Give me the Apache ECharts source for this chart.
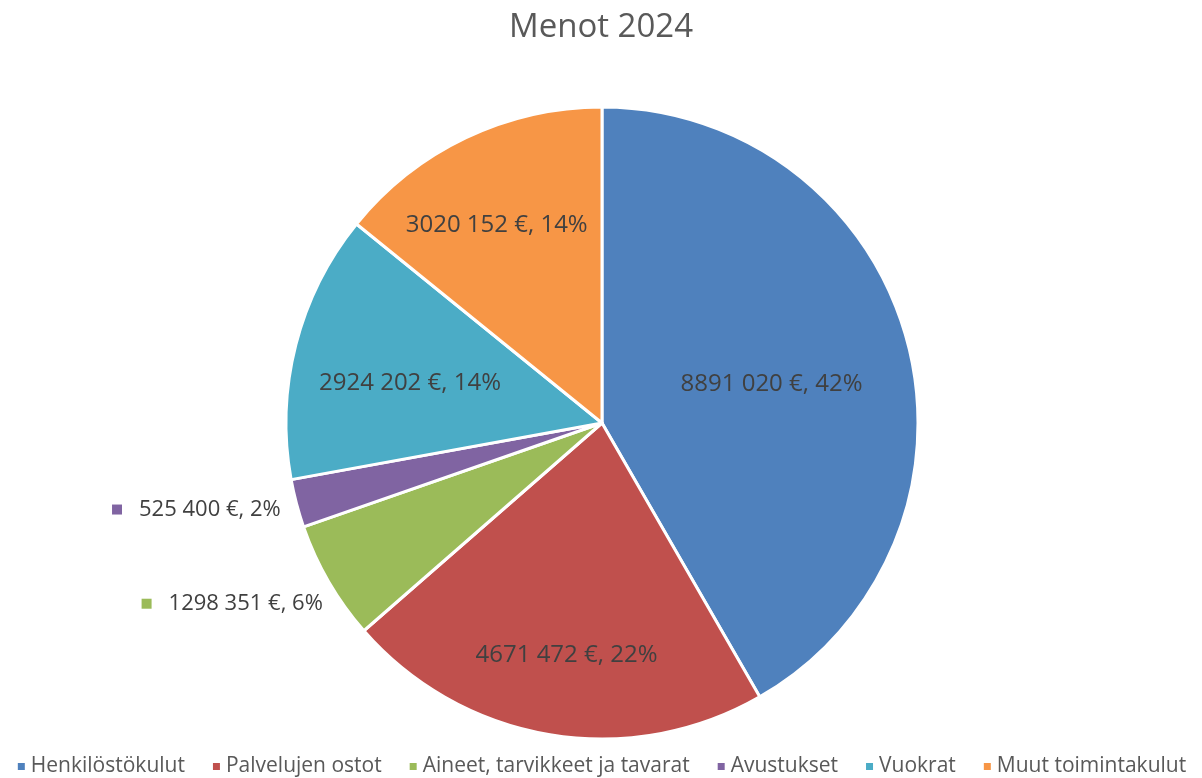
<!DOCTYPE html>
<html>
<head>
<meta charset="utf-8">
<script src="https://cdn.jsdelivr.net/npm/echarts@6/dist/echarts.min.js"></script>
<style>
  html, body { margin: 0; padding: 0; background: #fff; }
  #chart { width: 1202px; height: 778px; }
</style>
</head>
<body>
<div id="chart"></div>
<script>
var titleText = 'Menot 2024';
var categories = ['Henkilöstökulut', 'Palvelujen ostot', 'Aineet, tarvikkeet ja tavarat', 'Avustukset', 'Vuokrat', 'Muut toimintakulut'];
var amounts = [8891020, 4671472, 1298351, 525400, 2924202, 3020152];
var colors = ['#4F81BD', '#C0504D', '#9BBB59', '#8064A2', '#4BACC6', '#F79646'];
// slices whose label sits outside, with a colour key in front
var outsideLabels = [false, false, true, true, false, false];
// nudges so labels land where the original put them
var labelShift = [
  { dx: 14, dy: 3 },
  { dx: -9, dy: 73 },
  { dx: 12, dy: 18 },
  { dx: 3, dy: 4 },
  { dx: -36, dy: 0 },
  { dx: -36, dy: -53 }
];
var FONT = 'Open Sans';

function fmtEuro(v) {
  var hi = Math.floor(v / 1000);
  var lo = String(v % 1000);
  while (lo.length < 3) lo = '0' + lo;
  return hi + ' ' + lo + ' €';
}

var pieData = categories.map(function (name, i) {
  var item = { name: name, value: amounts[i], itemStyle: { color: colors[i] } };
  if (outsideLabels[i]) {
    item.label = {
      position: 'outside',
      formatter: function (p) { return '{dot|}{txt|' + fmtEuro(p.value) + ', ' + Math.round(p.percent) + '%}'; },
      rich: {
        dot: { width: 10, height: 10, backgroundColor: colors[i] },
        txt: { padding: [0, 0, 0, 17], fontSize: 22, color: '#404040', fontFamily: FONT }
      }
    };
    item.labelLine = { show: false, length: 8, length2: 6 };
  }
  return item;
});

var chart = echarts.init(document.getElementById('chart'));
chart.setOption({
  animation: false,
  title: {
    text: titleText,
    left: 'center',
    top: 6,
    textStyle: { fontSize: 33, fontWeight: 'normal', color: '#595959', fontFamily: FONT }
  },
  legend: {
    bottom: -4,
    left: 'center',
    icon: 'rect',
    itemWidth: 9,
    itemHeight: 9,
    itemGap: 26,
    textStyle: { fontSize: 21, color: '#595959', fontFamily: FONT },
    data: categories
  },
  series: [{
    type: 'pie',
    center: [602, 423],
    radius: 316,
    startAngle: 90,
    clockwise: true,
    percentPrecision: 0,
    avoidLabelOverlap: false,
    itemStyle: { borderColor: '#fff', borderWidth: 3 },
    label: {
      position: 'inside',
      fontSize: 24,
      color: '#404040',
      fontFamily: FONT,
      formatter: function (p) { return fmtEuro(p.value) + ', ' + Math.round(p.percent) + '%'; }
    },
    labelLayout: function (p) { return labelShift[p.dataIndex]; },
    emphasis: { disabled: true },
    data: pieData
  }]
});
</script>
</body>
</html>
